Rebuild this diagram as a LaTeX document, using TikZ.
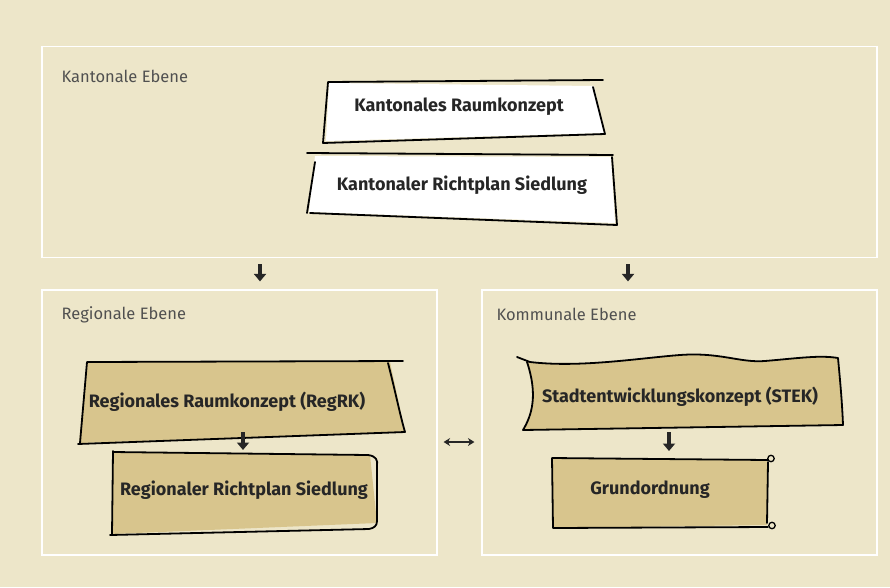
\documentclass[tikz,border=0pt]{standalone}
\usepackage{fontspec}
\setmainfont{Fira Sans}
\usetikzlibrary{arrows.meta,positioning}

\definecolor{papier}{RGB}{237,230,201}
\definecolor{sand}{RGB}{216,197,141}
\definecolor{grau}{RGB}{80,80,80}

\tikzset{
  ebene/.style={draw=white, line width=1.2pt, minimum width=#1, minimum height=265pt, inner sep=0pt},
  ebenelabel/.style={anchor=west, font=\fontsize{16.5}{18}\selectfont, text=grau, inner sep=0pt},
  boxtext/.style={font=\fontsize{18}{20}\selectfont\bfseries, text=black!85, inner sep=0pt},
  skizze/.style={line width=1.8pt, line join=round, line cap=round},
  fatarrow/.style={line width=3.2pt, -{Triangle[width=12pt,length=7.5pt]}, black!85},
  twoway/.style={line width=1.4pt, {Stealth[width=8pt,length=6.5pt]}-{Stealth[width=8pt,length=6.5pt]}, black!85}
}

\begin{document}
\begin{tikzpicture}[x=1pt,y=-1pt]
\fill[papier] (0,0) rectangle (890,587);
\useasboundingbox (0,0) rectangle (890,587);

% Ebenen
\node[ebene=835pt, minimum height=211pt] (kanton) at (459.5,152) {};
\node[ebene=395pt] (region) at (239.5,422.5) {};
\node[ebene=395pt] (kommune) at (679.5,422.5) {};
\node[ebenelabel] (kl) at ([shift={(20pt,-31pt)}]kanton.north west) {Kantonale Ebene};
\node[ebenelabel] (rl) at ([shift={(20pt,-25pt)}]region.north west) {Regionale Ebene};
\node[ebenelabel] (gl) at ([shift={(15pt,-25pt)}]kommune.north west) {Kommunale Ebene};

% kantonal
\fill[white] (329,83) -- (594,86) -- (604,133) -- (326,141) -- cycle;
\draw[skizze] (328,82) -- (603,80) (593,87) -- (605,134) -- (323,143) -- (328,82);
\fill[white] (315,156) -- (611,157) -- (615,223) -- (309,212) -- cycle;
\draw[skizze] (307,153) -- (613,155) (612,157) -- (617,225) -- (310,213) (315,162) -- (307,213);
\node[boxtext] (krk) at (459,107) {Kantonales Raumkonzept};
\node[boxtext] (krp) at (462,185) {Kantonaler Richtplan Siedlung};

% regional
\fill[sand] (87,362) -- (390,362) -- (405,432) -- (79,443) -- cycle;
\draw[skizze] (87,362) -- (403,361) (388,363) .. controls (395,390) and (400,415) .. (405,432)
  -- (78,444) (87,362) -- (80,443);
\fill[sand] (113,452) -- (370,455) -- (377,523) -- (112,534) -- cycle;
\draw[skizze] (113,452) -- (368,455) .. controls (376,456) and (378,460) .. (377,466)
  -- (377,521) .. controls (377,526) and (374,528) .. (369,529) -- (110,535) (113,451) -- (112,534);
\node[boxtext] (rrk) at (227,402) {Regionales Raumkonzept (RegRK)};
\node[boxtext] (rrp) at (244,490) {Regionaler Richtplan Siedlung};

% kommunal
\fill[sand] (530,362) .. controls (580,368) and (640,358) .. (680,355)
  .. controls (720,352) and (740,363) .. (765,361) .. controls (800,358) and (820,355) .. (838,358)
  -- (843,425) -- (523,430) .. controls (532,415) and (538,395) .. (527,362);
\draw[skizze] (517,357) -- (530,362) .. controls (580,368) and (640,358) .. (680,355)
  .. controls (720,352) and (740,363) .. (765,361) .. controls (800,358) and (820,355) .. (838,358)
  .. controls (840,380) and (842,400) .. (843,425) -- (523,430)
  .. controls (532,415) and (538,395) .. (527,362);
\fill[sand] (552,458) -- (767,460) -- (767,525) -- (553,528) -- cycle;
\draw[skizze] (552,458) -- (768,460) (768,462) -- (767,523) (768,527) -- (553,528) (552,458) -- (553,528);
\draw[skizze, line width=1.3pt] (771,458.5) circle (3.2) (772,525.5) circle (3.2);
\node[boxtext] (stek) at (680,397) {Stadtentwicklungskonzept (STEK)};
\node[boxtext] (gro) at (650,490) {Grundordnung};

% Pfeile
\draw[fatarrow] ([xshift=20.5pt,yshift=-6pt]region.north |- kanton.south) -- ([xshift=20.5pt,yshift=8pt]region.north);
\draw[fatarrow] ([xshift=-51.5pt,yshift=-6pt]kommune.north |- kanton.south) -- ([xshift=-51.5pt,yshift=8pt]kommune.north);
\draw[fatarrow] ([xshift=16pt,yshift=-30pt]rrk.center) -- ([xshift=-1pt,yshift=40pt]rrp.center);
\draw[fatarrow] ([xshift=-11pt,yshift=-35pt]stek.center) -- ([xshift=19pt,yshift=39pt]gro.center);
\draw[twoway, shorten <=6pt, shorten >=7pt] ([yshift=-19.5pt]region.east) -- ([yshift=-19.5pt]kommune.west);
\end{tikzpicture}
\end{document}
